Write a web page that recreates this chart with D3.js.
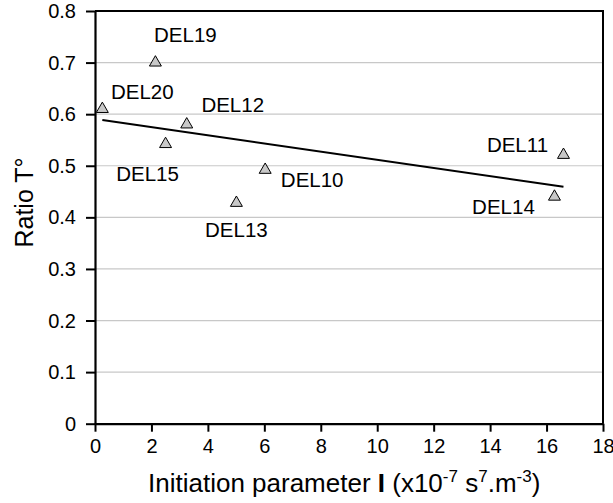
<!DOCTYPE html>
<html>
<head>
<meta charset="utf-8">
<script src="https://cdn.jsdelivr.net/npm/d3@7"></script>
<style>
  html, body { margin: 0; padding: 0; background: #fff; }
  svg { display: block; font-family: "Liberation Sans", Arial, Helvetica, sans-serif; }
</style>
</head>
<body>
<svg id="chart" width="613" height="503"></svg>
<script>
// Sample names, initiation parameter I (x10^-7 s^7.m^-3) and T° ratio
const samples = ["DEL20", "DEL19", "DEL12", "DEL15", "DEL10", "DEL13", "DEL11", "DEL14"];
const initiation = [0.26, 2.14, 3.25, 2.5, 6.03, 5.01, 16.6, 16.28];
const ratioT = [0.61, 0.70, 0.58, 0.542, 0.492, 0.428, 0.521, 0.44];

const xTicks = [0, 2, 4, 6, 8, 10, 12, 14, 16, 18];
const yTicks = [0, 0.1, 0.2, 0.3, 0.4, 0.5, 0.6, 0.7, 0.8];

// Label placement relative to each marker (pixels)
const labelOffset = {
  DEL20: [40, -10], DEL19: [30, -21], DEL12: [46, -12], DEL15: [-18, 37],
  DEL10: [47, 17], DEL13: [0, 34], DEL11: [-46, -3], DEL14: [-51, 17]
};

const svg = d3.select("#chart");
const x = d3.scaleLinear().domain([0, 18]).range([95, 603]);
const y = d3.scaleLinear().domain([0, 0.8]).range([423.7, 11]);

// horizontal grid
svg.append("g").selectAll("line")
  .data(yTicks.filter(t => t > 0 && t < 0.8))
  .join("line")
  .attr("x1", x(0)).attr("x2", x(18))
  .attr("y1", d => y(d)).attr("y2", d => y(d))
  .attr("stroke", "#c8c8c8").attr("stroke-width", 1.2);

// frame top and right
svg.append("path")
  .attr("d", `M${x(0)},${y(0.8)}H${x(18)}V${y(0)}`)
  .attr("fill", "none").attr("stroke", "#000").attr("stroke-width", 2);

// axes
const yAxis = svg.append("g")
  .attr("transform", `translate(${x(0)},0)`)
  .call(d3.axisLeft(y).tickValues(yTicks).tickSize(9).tickSizeOuter(0)
    .tickFormat(d => d === 0 ? "0" : d3.format(".1f")(d)));
const xAxis = svg.append("g")
  .attr("transform", `translate(0,${y(0)})`)
  .call(d3.axisBottom(x).tickValues(xTicks).tickSize(8).tickSizeOuter(0));

[yAxis, xAxis].forEach(g => {
  g.select(".domain").attr("stroke-width", 2.2);
  g.selectAll(".tick line").attr("stroke-width", 2);
  g.selectAll(".tick text").attr("font-size", 20).attr("fill", "#000")
    .attr("font-family", "Liberation Sans, Arial, sans-serif");
});
yAxis.selectAll(".tick text").attr("x", -19).attr("dy", "0.33em");
xAxis.selectAll(".tick text").attr("y", 15).attr("dy", "0.71em");

// least-squares trend line over the sampled range
const mx = d3.mean(initiation), my = d3.mean(ratioT);
const slope = d3.sum(initiation, (v, i) => (v - mx) * (ratioT[i] - my)) /
              d3.sum(initiation, v => (v - mx) ** 2);
const icpt = my - slope * mx;
const [xmin, xmax] = d3.extent(initiation);
svg.append("line")
  .attr("x1", x(xmin)).attr("y1", y(icpt + slope * xmin))
  .attr("x2", x(xmax)).attr("y2", y(icpt + slope * xmax))
  .attr("stroke", "#000").attr("stroke-width", 2);

// markers
const tri = d3.symbol().type(d3.symbolTriangle).size(62);
const pts = samples.map((s, i) => ({ s, xv: initiation[i], yv: ratioT[i] }));
svg.append("g").selectAll("path")
  .data(pts).join("path")
  .attr("d", tri)
  .attr("transform", d => `translate(${x(d.xv)},${y(d.yv)})`)
  .attr("fill", "#c8c8c8").attr("stroke", "#000").attr("stroke-width", 1);

// sample labels
svg.append("g").selectAll("text")
  .data(pts).join("text")
  .attr("x", d => x(d.xv) + labelOffset[d.s][0])
  .attr("y", d => y(d.yv) + labelOffset[d.s][1])
  .attr("text-anchor", "middle")
  .attr("font-size", 20.5)
  .text(d => d.s);

// axis titles
const xt = svg.append("text")
  .attr("x", 148).attr("y", 492)
  .attr("text-anchor", "start")
  .attr("font-size", 26);
xt.append("tspan").text("Initiation parameter ");
xt.append("tspan").attr("font-weight", "bold").text("I");
xt.append("tspan").text(" (x10");
xt.append("tspan").attr("font-size", 17).attr("dy", -10).text("-7");
xt.append("tspan").attr("dy", 10).text(" s");
xt.append("tspan").attr("font-size", 17).attr("dy", -10).text("7");
xt.append("tspan").attr("dy", 10).text(".m");
xt.append("tspan").attr("font-size", 17).attr("dy", -10).text("-3");
xt.append("tspan").attr("dy", 10).text(")");

svg.append("text")
  .attr("transform", "translate(33,202.5) rotate(-90)")
  .attr("text-anchor", "middle")
  .attr("font-size", 25)
  .text("Ratio T°");
</script>
</body>
</html>
